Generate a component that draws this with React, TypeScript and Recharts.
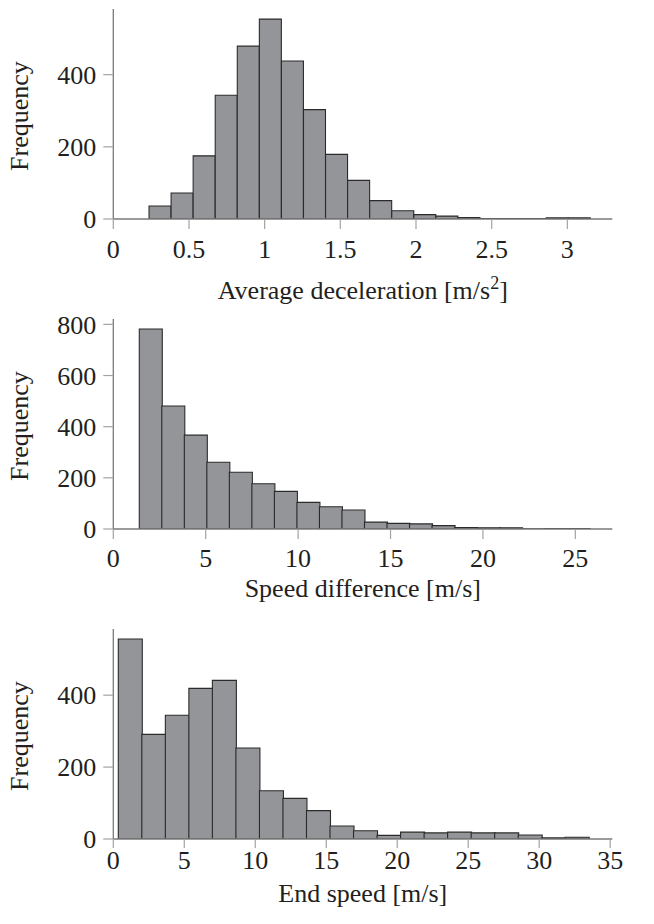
import React from 'react'
import { BarChart, Bar, XAxis, YAxis, Label } from 'recharts'

// average deceleration histogram
const accelBinStart = 0.236
const accelBinWidth = 0.1458
const accelCounts = [36, 72, 175, 343, 479, 554, 438, 303, 179, 107, 51, 23, 12, 8, 4, 1, 1, 1, 3, 3]
const accelTicks = [0, 0.5, 1, 1.5, 2, 2.5, 3]
const accelFreqTicks = [0, 200, 400]

// speed difference histogram
const diffBinStart = 1.406
const diffBinWidth = 1.2185
const diffCounts = [782, 481, 367, 261, 222, 177, 147, 104, 87, 74, 27, 22, 20, 13, 6, 5, 5, 1, 2, 2]
const diffTicks = [0, 5, 10, 15, 20, 25]
const diffFreqTicks = [0, 200, 400, 600, 800]

// end speed histogram
const endBinStart = 0.352
const endBinWidth = 1.657
const endCounts = [556, 291, 344, 419, 441, 253, 134, 113, 79, 36, 23, 10, 19, 17, 19, 17, 17, 11, 3, 5]
const endTicks = [0, 5, 10, 15, 20, 25, 30, 35]
const endFreqTicks = [0, 200, 400]

const FONT = '"Liberation Serif", "Times New Roman", serif'
const FONT_SIZE = 26
const TEXT = '#231f20'
const BAR_FILL = '#939598'
const BAR_STROKE = '#2b2b2b'
const AXIS = '#7a7a7a'
const TICK = '#a3a3a3'

const PLOT_TOP = 9
const PLOT_H = 210

function toBins(start: number, width: number, counts: number[]) {
  return counts.map((count, i) => ({ x: start + (i + 0.5) * width, count }))
}

interface PanelProps {
  top: number
  height: number
  data: { x: number; count: number }[]
  xMax: number
  xTicks: number[]
  yMax: number
  yTicks: number[]
  tickSize: number
  tickMargin: number
  titleBaseline: number
  title: React.ReactNode
}

function Panel({ top, height, data, xMax, xTicks, yMax, yTicks, tickSize, tickMargin, titleBaseline, title }: PanelProps) {
  const tickStyle = { fontFamily: FONT, fontSize: FONT_SIZE, fill: TEXT }
  return (
    <div style={{ position: 'absolute', left: 0, top }}>
      <BarChart
        width={654}
        height={height}
        data={data}
        margin={{ top: PLOT_TOP, right: 41.7, bottom: 0, left: 0 }}
        barCategoryGap={0}
        barGap={0}
      >
        <XAxis
          type="number"
          dataKey="x"
          domain={[0, xMax]}
          ticks={xTicks}
          interval={0}
          allowDataOverflow
          height={height - PLOT_TOP - PLOT_H}
          tickSize={tickSize}
          tickMargin={tickMargin}
          tick={tickStyle}
          axisLine={{ stroke: AXIS, strokeWidth: 1.3 }}
          tickLine={{ stroke: TICK, strokeWidth: 1.2 }}
        >
          <Label
            content={({ viewBox }: any) => (
              <text
                x={viewBox.x + viewBox.width / 2}
                y={viewBox.y + titleBaseline}
                textAnchor="middle"
                fontFamily={FONT}
                fontSize={FONT_SIZE}
                fill={TEXT}
              >
                {title}
              </text>
            )}
          />
        </XAxis>
        <YAxis
          type="number"
          domain={[0, yMax]}
          ticks={yTicks}
          interval={0}
          allowDataOverflow
          width={113.3}
          tickSize={10}
          tickMargin={7}
          tick={tickStyle}
          axisLine={{ stroke: AXIS, strokeWidth: 1.3 }}
          tickLine={{ stroke: TICK, strokeWidth: 1.2 }}
        >
          <Label
            content={({ viewBox }: any) => {
              const cx = viewBox.x + 28
              const cy = viewBox.y + viewBox.height / 2 + 2
              return (
                <text
                  x={cx}
                  y={cy}
                  transform={`rotate(-90 ${cx} ${cy})`}
                  textAnchor="middle"
                  fontFamily={FONT}
                  fontSize={FONT_SIZE}
                  fill={TEXT}
                >
                  Frequency
                </text>
              )
            }}
          />
        </YAxis>
        <Bar dataKey="count" fill={BAR_FILL} stroke={BAR_STROKE} strokeWidth={1.1} isAnimationActive={false} />
      </BarChart>
    </div>
  )
}

export default function App() {
  return (
    <div style={{ position: 'absolute', left: 0, top: 0, width: 654, height: 924, background: '#fff' }}>
      <Panel
        top={0}
        height={310}
        data={toBins(accelBinStart, accelBinWidth, accelCounts)}
        xMax={3.297}
        xTicks={accelTicks}
        yMax={582}
        yTicks={accelFreqTicks}
        tickSize={10}
        tickMargin={11}
        titleBaseline={80}
        title={
          <>
            <tspan>Average deceleration [m/s</tspan>
            <tspan dy={-10} fontSize={18}>2</tspan>
            <tspan dy={10}>]</tspan>
          </>
        }
      />
      <Panel
        top={310}
        height={310}
        data={toBins(diffBinStart, diffBinWidth, diffCounts)}
        xMax={27}
        xTicks={diffTicks}
        yMax={821}
        yTicks={diffFreqTicks}
        tickSize={10}
        tickMargin={10}
        titleBaseline={68}
        title="Speed difference [m/s]"
      />
      <Panel
        top={620}
        height={304}
        data={toBins(endBinStart, endBinWidth, endCounts)}
        xMax={35.15}
        xTicks={endTicks}
        yMax={584}
        yTicks={endFreqTicks}
        tickSize={9}
        tickMargin={3}
        titleBaseline={63}
        title="End speed [m/s]"
      />
    </div>
  )
}
